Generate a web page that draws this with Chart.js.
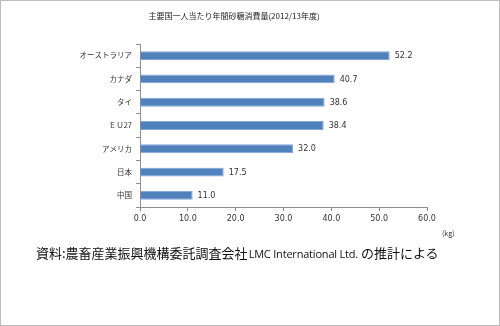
<!DOCTYPE html>
<html>
<head>
<meta charset="utf-8">
<script src="https://cdn.jsdelivr.net/npm/chart.js@4"></script>
<style>
  html, body { margin: 0; padding: 0; background: #fff; }
  #frame {
    position: relative;
    width: 498px; height: 324px;
    border: 1px solid #bdbdbd;
    overflow: hidden;
  }
  #chartBox { position: absolute; left: -1px; top: -1px; width: 500px; height: 326px; }
  .title {
    position: absolute; left: 0; top: 9px; width: 466px;
    text-align: center;
    font: 8px "Noto Sans CJK JP", sans-serif; color: #222;
  }
  .unit {
    position: absolute; left: 441px; top: 227px;
    font: 7px "Noto Sans CJK JP", sans-serif; color: #333;
  }
  .note {
    position: absolute; left: 35px; top: 242px;
    font: 13px "Noto Sans CJK JP", sans-serif; color: #111;
    white-space: nowrap;
  }
  .note .latin { font-family: "Open Sans", sans-serif; font-size: 11px; letter-spacing: -0.2px; margin-left: 1px; }
</style>
</head>
<body>
<div id="frame">
  <div id="chartBox"><canvas id="sugarChart" width="500" height="326"></canvas></div>
  <div class="title">主要国一人当たり年間砂糖消費量(2012/13年度)</div>
  <div class="unit">(kg)</div>
  <div class="note">資料:農畜産業振興機構委託調査会社<span class="latin">LMC International Ltd.</span> の推計による</div>
</div>

<script>
// per-capita sugar consumption, kg / year
const countries = ['オーストラリア', 'カナダ', 'タイ', 'ＥＵ27', 'アメリカ', '日本', '中国'];
const consumption = [52.2, 40.7, 38.6, 38.4, 32.0, 17.5, 11.0];
const xTicks = [0, 10, 20, 30, 40, 50, 60];

// writes the value just past the end of each bar
const valueLabels = {
    id: 'valueLabels',
    afterDatasetsDraw(chart) {
        const ctx = chart.ctx;
        const meta = chart.getDatasetMeta(0);
        ctx.save();
        ctx.font = '8px "DejaVu Sans", sans-serif';
        ctx.fillStyle = '#333';
        ctx.textBaseline = 'middle';
        meta.data.forEach((bar, i) => {
            ctx.fillText(consumption[i].toFixed(1), bar.x + 5, bar.y + 0.5);
        });
        ctx.restore();
    }
};

const ctx = document.getElementById('sugarChart').getContext('2d');
new Chart(ctx, {
    type: 'bar',
    data: {
        labels: countries,
        datasets: [{
            data: consumption,
            backgroundColor: '#4f81bd',
            borderColor: '#86a7d6',
            borderWidth: 1,
            borderSkipped: 'start',
            barPercentage: 0.38,
            categoryPercentage: 1
        }]
    },
    options: {
        indexAxis: 'y',
        responsive: false,
        animation: false,
        layout: { padding: { top: 44, left: 0, right: 73, bottom: 0 } },
        plugins: {
            legend: { display: false },
            tooltip: { enabled: false }
        },
        scales: {
            x: {
                min: xTicks[0],
                max: xTicks[xTicks.length - 1],
                afterBuildTicks: (scale) => { scale.ticks = xTicks.map(v => ({ value: v })); },
                afterFit: (scale) => { scale.height = 119; },
                border: { color: '#8f8f8f' },
                grid: { drawOnChartArea: false, tickLength: 4, color: '#8f8f8f' },
                ticks: {
                    padding: 3,
                    color: '#333',
                    font: { size: 8, family: '"DejaVu Sans", sans-serif' },
                    callback: (v) => Number(v).toFixed(1)
                }
            },
            y: {
                afterFit: (scale) => { scale.width = 140; },
                border: { color: '#8f8f8f' },
                grid: { drawOnChartArea: false, tickLength: 4, color: '#8f8f8f', offset: true },
                ticks: {
                    padding: 4,
                    color: '#333',
                    font: { size: 7.5, family: '"Noto Sans CJK JP", sans-serif' }
                }
            }
        }
    },
    plugins: [valueLabels]
});
</script>
</body>
</html>
